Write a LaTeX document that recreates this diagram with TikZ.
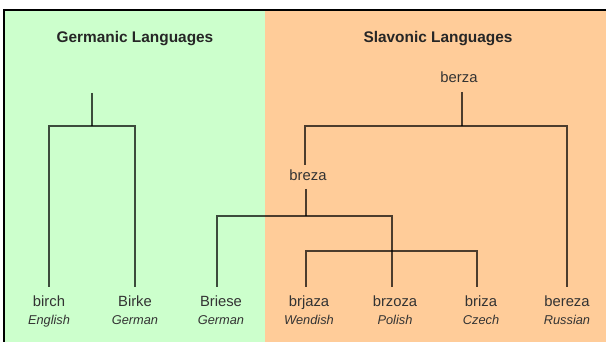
\documentclass[tikz,border=0pt]{standalone}
\usepackage{fontspec}
\setmainfont{Liberation Sans}
\definecolor{gbg}{HTML}{CCFFCC}
\definecolor{obg}{HTML}{FFCC99}
\definecolor{txt}{HTML}{333333}
\begin{document}
\begin{tikzpicture}[x=1pt,y=-1pt,
 tree/.style={draw=black, draw opacity=0.7, line width=1.6pt},
 word/.style={anchor=base, font=\fontsize{14.8}{16}\selectfont, text=txt, inner sep=0pt},
 lang/.style={anchor=base, font=\fontsize{12.8}{14}\selectfont\itshape, text=txt, inner sep=0pt},
 title/.style={anchor=base, font=\fontsize{15.4}{18}\selectfont\bfseries, text=black!85, inner sep=0pt}]
\useasboundingbox (0,0) rectangle (606,342);
\fill[white] (0,0) rectangle (606,342);
\fill[gbg] (4,10) rectangle (265,342);
\fill[obg] (265,10) rectangle (606,342);
\draw[line width=2pt, black] (4,343) -- (4,10) -- (607,10);
% titles
\node[title] (gtitle) at (135,43) {Germanic Languages};
\node[title] (stitle) at (438,43) {Slavonic Languages};
% inner labels
\node[word] (berza) at (459,83) {berza};
\node[word] (breza) at (308,181) {breza};
% leaves
\node[word] (birch) at (49,306) {birch};
\node[lang] (birchL) at (49,324) {English};
\node[word] (birke) at (135,306) {Birke};
\node[lang] (birkeL) at (135,324) {German};
\node[word] (briese) at (221,306) {Briese};
\node[lang] (brieseL) at (221,324) {German};
\node[word] (brjaza) at (309,306) {brjaza};
\node[lang] (brjazaL) at (309,324) {Wendish};
\node[word] (brzoza) at (395,306) {brzoza};
\node[lang] (brzozaL) at (395,324) {Polish};
\node[word] (briza) at (481,306) {briza};
\node[lang] (brizaL) at (481,324) {Czech};
\node[word] (bereza) at (567,306) {bereza};
\node[lang] (berezaL) at (567,324) {Russian};
% connector points
\coordinate (gtop) at (92,93);
\coordinate (gj) at (92,126);
\coordinate (birchT) at (49,287);
\coordinate (birkeT) at (135,287);
\coordinate (stop) at (462,92);
\coordinate (sj) at (462,126);
\coordinate (brezaIn) at (305,165);
\coordinate (brezaOut) at (306,189);
\coordinate (bj) at (306,216);
\coordinate (brieseT) at (217,287);
\coordinate (brjazaT) at (306,287);
\coordinate (brzozaT) at (392,287);
\coordinate (brizaT) at (477,287);
\coordinate (berezaT) at (567,287);
\coordinate (wj) at (306,251);
% Germanic tree
\draw[tree] (gtop) -- (gj);
\draw[tree] (birchT) |- (birkeT |- gj) -- (birkeT);
% Slavonic tree
\draw[tree] (stop) -- (sj);
\draw[tree] (brezaIn) |- (berezaT |- sj) -- (berezaT);
\draw[tree] (brezaOut) -- (bj);
\draw[tree] (brieseT) |- (brzozaT |- bj) -- (brzozaT);
\draw[tree] (brjazaT) -- (wj) -| (brizaT);
\end{tikzpicture}
\end{document}
